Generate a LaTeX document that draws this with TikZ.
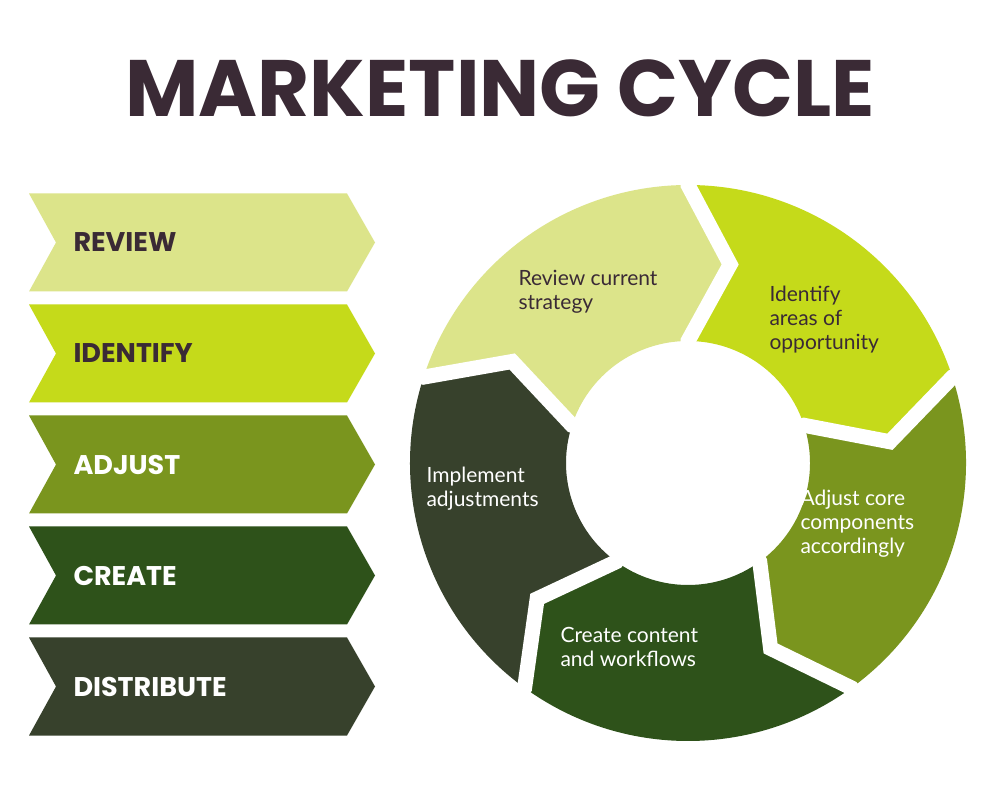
\documentclass[tikz,border=0pt]{standalone}
\usetikzlibrary{calc}
\usepackage{fontspec}
\setmainfont{Lato}
\newfontfamily\headfont{Poppins}
\definecolor{cA}{HTML}{DCE48A}
\definecolor{cB}{HTML}{C5DA1A}
\definecolor{cC}{HTML}{7A951E}
\definecolor{cD}{HTML}{2E521A}
\definecolor{cE}{HTML}{37412C}
\definecolor{ink}{HTML}{3A2A35}
\begin{document}
\begin{tikzpicture}[x=1pt,y=1pt,
  chevtext/.style={anchor=west,font=\headfont\bfseries\fontsize{27}{30}\selectfont},
  cyctext/.style={anchor=north west,align=left,font=\fontsize{21}{24}\selectfont}]
\useasboundingbox (0,0) rectangle (1000,800);
\fill[white] (0,0) rectangle (1000,800);
\node[font=\headfont\bfseries\fontsize{80}{90}\selectfont,text=ink] (title) at (500,712) {MARKETING CYCLE};
% left chevrons
\foreach \i/\c/\t/\tc in {0/cA/REVIEW/ink,1/cB/IDENTIFY/ink,2/cC/ADJUST/white,3/cD/CREATE/white,4/cE/DISTRIBUTE/white}{
  \pgfmathsetmacro\yt{800-193.5-111*\i}
  \pgfmathsetmacro\yb{\yt-98}
  \pgfmathsetmacro\ym{\yt-49}
  \fill[\c] (29,\yt) -- (347,\yt) -- (375,\ym) -- (347,\yb) -- (29,\yb) -- (56,\ym) -- cycle;
  \node[chevtext,text=\tc] (lab\i) at (70,\ym) {\t};
}
% cycle
\coordinate (O) at (688,337);
\foreach \k/\c in {0/cA,1/cB,2/cC,3/cD,4/cE}{
  \pgfmathsetmacro\a{162-72*\k}
  \pgfmathsetmacro\b{90-72*\k}
  \pgfmathsetmacro\at{\a-12}
  \pgfmathsetmacro\bt{\b-12}
  \fill[\c] ($(O)+(\a:278)$) arc[start angle=\a,end angle=\b,radius=278]
     -- ($(O)+(\bt:203)$) -- ($(O)+(\b:122)$)
     arc[start angle=\b,end angle=\a,radius=122]
     -- ($(O)+(\at:203)$) -- cycle;
}
\foreach \k in {0,...,4}{
  \pgfmathsetmacro\b{90-72*\k}
  \pgfmathsetmacro\bt{\b-12}
  \draw[white,line width=15pt,line join=miter] ($(O)+(\b:285)$) -- ($(O)+(\b:278)$) -- ($(O)+(\bt:203)$) -- ($(O)+(\b:122)$) -- ($(O)+(\b:115)$);
}
\node[cyctext,text=ink] (t0) at (515,533) {Review current\\strategy};
\node[cyctext,text=ink] (t1) at (766,517) {Identify\\areas of\\opportunity};
\node[cyctext,text=white] (t2) at (797,313) {Adjust core\\components\\accordingly};
\node[cyctext,text=white] (t3) at (557,176) {Create content\\and workflows};
\node[cyctext,text=white] (t4) at (423,336) {Implement\\adjustments};
\end{tikzpicture}
\end{document}
